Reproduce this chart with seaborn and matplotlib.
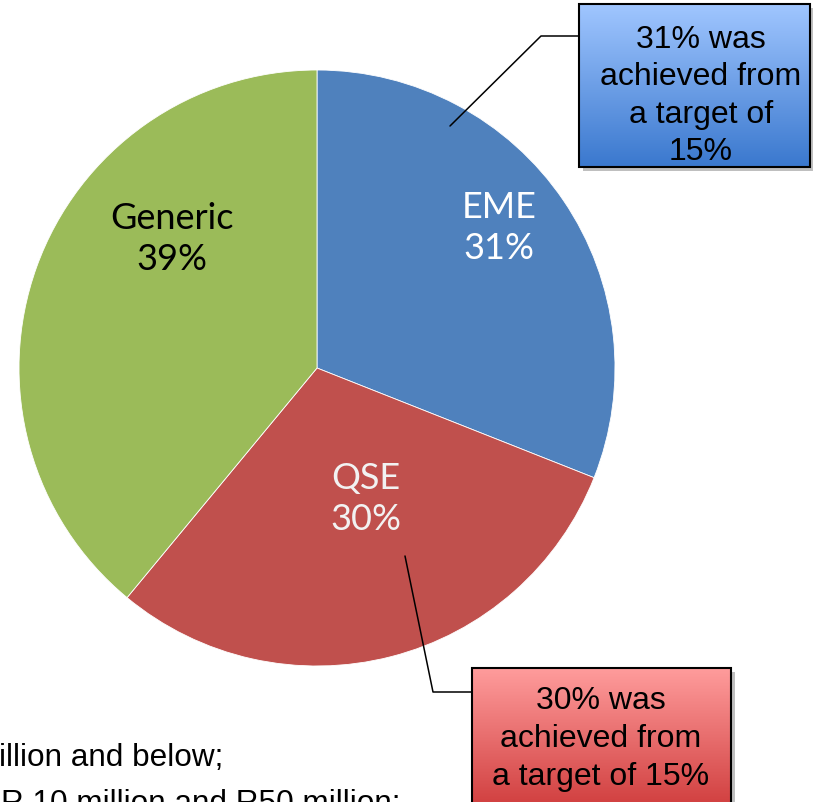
import numpy as np
import matplotlib
matplotlib.use("Agg")
import matplotlib.pyplot as plt
from matplotlib.patches import Rectangle
import seaborn as sns

# ---- data ----
categories = ["EME", "QSE", "Generic"]
shares = [31, 30, 39]
colors = ["#4F81BD", "#C0504D", "#9BBB59"]
label_colors = ["white", "#F2F2F2", "black"]
eme_note = "31% was\nachieved from\na target of\n15%"
qse_note = "30% was\nachieved from\na target of 15%"
footer_lines = ["illion and below;", "R 10 million and R50 million;"]

sns.set_theme(style="white")
plt.rcParams['font.family'] = ['Liberation Sans', 'DejaVu Sans']

W, H = 813, 803
fig = plt.figure(figsize=(W / 100, H / 100), dpi=100)
ax = fig.add_axes([0, 0, 1, 1])

def py(y):  # convert pixel-from-top to data y
    return H - y

cx, cy, R = 317, py(369), 298
ax.pie(shares, colors=sns.color_palette(colors), startangle=90, counterclock=False,
       center=(cx, cy), radius=R, wedgeprops=dict(edgecolor="white", linewidth=0.6),
       frame=True)
ax.set_xlim(0, W)
ax.set_ylim(0, H)
ax.set_aspect('auto')
ax.axis('off')

# pie labels
label_pos = [(499, 228), (366, 499), (172, 239)]
for cat, s, (lx, ly), c in zip(categories, shares, label_pos, label_colors):
    ax.text(lx, py(ly), f"{cat}\n{s}%", ha="center", va="center", fontsize=26,
            color=c, family=["Lato", "DejaVu Sans"], linespacing=1.3, zorder=5)

def grad_box(x0, y0, x1, y1, top, bottom):
    # y0, y1 pixel from top
    c0 = np.array(matplotlib.colors.to_rgb(top))
    c1 = np.array(matplotlib.colors.to_rgb(bottom))
    t = np.linspace(0, 1, 256)[:, None]
    img = (c0 * (1 - t) + c1 * t)[:, None, :]
    # shadow
    ax.add_patch(Rectangle((x0 + 4, py(y1) - 4), x1 - x0, y1 - y0,
                           facecolor="#000000", alpha=0.25, edgecolor="none", zorder=6))
    ax.imshow(img, extent=(x0, x1, py(y1), py(y0)), aspect="auto", zorder=7,
              origin="upper")
    ax.add_patch(Rectangle((x0, py(y1)), x1 - x0, y1 - y0, facecolor="none",
                           edgecolor="black", linewidth=1.5, zorder=8))

# blue callout
grad_box(579, 5, 810, 168, "#A0C6FF", "#3A78CE")
ax.text(701, py(96), eme_note, ha="center", va="center", fontsize=23,
        color="black", linespacing=1.33, zorder=9)
ax.plot([579, 541, 450], [py(37), py(37), py(127)], color="black", lw=1.1, zorder=4)

# red callout
grad_box(472, 669, 731, 815, "#FF9C9C", "#CE3A3A")
ax.text(601, py(739), qse_note, ha="center", va="center", fontsize=23,
        color="black", linespacing=1.33, zorder=9)
ax.plot([472, 433, 405], [py(693), py(693), py(557)], color="black", lw=1.1, zorder=4)

# footer text (cut off slide text)
ax.text(-1, py(766), footer_lines[0], ha="left", va="baseline", fontsize=22.7,
        color="black", zorder=3)
ax.text(1, py(812), footer_lines[1], ha="left", va="baseline", fontsize=22.7,
        color="black", zorder=3)

ax.set_xlim(0, W)
ax.set_ylim(0, H)
fig.savefig("out.png", dpi=100)
